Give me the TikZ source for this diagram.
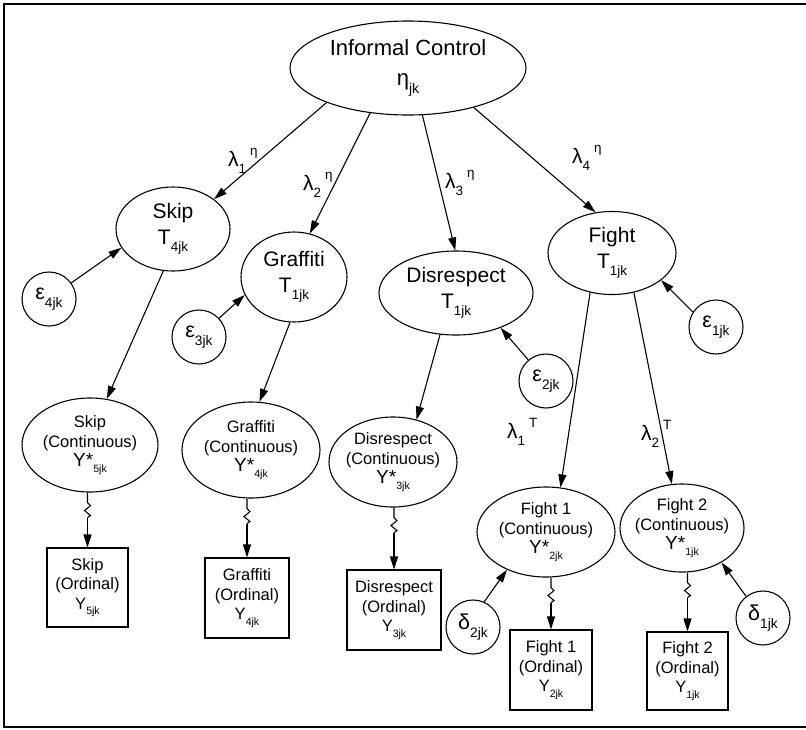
\documentclass[tikz,border=0pt]{standalone}
\usepackage{fontspec}
\setmainfont{Liberation Sans}
\usepackage{graphicx}
\usetikzlibrary{arrows.meta,shapes.geometric}
\newcommand\lo[1]{\raisebox{-0.34em}{\scalebox{0.64}{#1}}}
\newcommand\hi[1]{\raisebox{0.5em}{\scalebox{0.64}{#1}}}
\newcommand\bigY{{\fontsize{19}{19}\selectfont Y*}}
\tikzset{
  lat/.style={draw, ellipse, line width=1.1pt, inner sep=-14pt, align=center},
  bigf/.style={font=\fontsize{21}{26}\selectfont},
  smallf/.style={font=\fontsize{16.5}{19.5}\selectfont},
  err/.style={draw, circle, line width=1.1pt, inner sep=0pt, minimum size=54pt, font=\fontsize{21.5}{21.5}\selectfont},
  obs/.style={draw, rectangle, line width=1.1pt, inner sep=0pt, align=center, font=\fontsize{16.5}{19.5}\selectfont},
  arr/.style={line width=1.1pt, -{Triangle[length=13pt,width=8pt]}},
  zig/.style={line width=1.1pt},
  lab/.style={font=\fontsize{21}{21}\selectfont, inner sep=0pt, anchor=base west}
}
\begin{document}
\begin{tikzpicture}[x=1pt,y=-1pt]
\useasboundingbox (0,0) rectangle (806,729);
\draw[line width=2.8pt] (806,4) -- (4,4) -- (4,727) -- (806,727);

% latent nodes
\node[lat, font=\fontsize{22}{30}\selectfont, minimum width=236pt, minimum height=94pt] (ic) at (408,68) {Informal Control\\η\lo{jk}};
\node[lat, bigf, minimum width=114pt, minimum height=84pt] (st) at (173,229) {Skip\\T\lo{4jk}};
\node[lat, bigf, minimum width=106pt, minimum height=90pt] (gt) at (294,277) {Graffiti\\T\lo{1jk}};
\node[lat, bigf, minimum width=154pt, minimum height=84pt] (dt) at (456,293) {Disrespect\\T\lo{1jk}};
\node[lat, bigf, minimum width=128pt, minimum height=83pt] (ft) at (612,253) {Fight\\T\lo{1jk}};

% continuous
\node[lat, smallf, minimum width=136pt, minimum height=94pt] (sc) at (90,445) {Skip\\(Continuous)\\\bigY\lo{5jk}};
\node[lat, smallf, minimum width=138pt, minimum height=96pt] (gc) at (251,450) {Graffiti\\(Continuous)\\\bigY\lo{4jk}};
\node[lat, smallf, minimum width=128pt, minimum height=90pt] (dc) at (393,462) {Disrespect\\(Continuous)\\\bigY\lo{3jk}};
\node[lat, smallf, minimum width=138pt, minimum height=90pt] (f1c) at (546,532) {Fight 1\\(Continuous)\\\bigY\lo{2jk}};
\node[lat, smallf, minimum width=124pt, minimum height=88pt] (f2c) at (682,528) {Fight 2\\(Continuous)\\\bigY\lo{1jk}};

% ordinal boxes
\node[obs, minimum width=81pt, minimum height=79pt] (so) at (87.5,587.5) {Skip\\(Ordinal)\\Y\lo{5jk}};
\node[obs, minimum width=84pt, minimum height=80pt] (go) at (247,598) {Graffiti\\(Ordinal)\\Y\lo{4jk}};
\node[obs, minimum width=94pt, minimum height=80pt] (do) at (394,610) {Disrespect\\(Ordinal)\\Y\lo{3jk}};
\node[obs, minimum width=82pt, minimum height=80pt] (f1o) at (551,670) {Fight 1\\(Ordinal)\\Y\lo{2jk}};
\node[obs, minimum width=81pt, minimum height=78pt] (f2o) at (687.5,671) {Fight 2\\(Ordinal)\\Y\lo{1jk}};

% error terms
\node[err] (e4) at (49,299) {ε\lo{4jk}};
\node[err] (e3) at (199,337) {ε\lo{3jk}};
\node[err] (e2) at (546,381) {ε\lo{2jk}};
\node[err] (e1) at (716,327) {ε\lo{1jk}};
\node[err] (d2) at (473,627) {δ\lo{2jk}};
\node[err] (d1) at (763,618) {δ\lo{1jk}};

% loadings labels
\node[lab] (l1) at (228,166) {λ\lo{1}\hspace{4pt}\hi{η}};
\node[lab] (l2) at (303,190) {λ\lo{2}\hspace{4pt}\hi{η}};
\node[lab] (l3) at (445,188) {λ\lo{3}\hspace{4pt}\hi{η}};
\node[lab] (l4) at (572,163) {λ\lo{4}\hspace{4pt}\hi{η}};
\node[lab] (l5) at (507,438) {λ\lo{1}\hspace{4pt}\hi{T}};
\node[lab] (l6) at (641,440) {λ\lo{2}\hspace{4pt}\hi{T}};

% arrows
\draw[arr] (ic.203.6) -- (st.36);
\draw[arr] (ic.230) -- (gt.70);
\draw[arr] (ic.287) -- (dt.91);
\draw[arr] (ic.329) -- (ft.112);
\draw[arr] (e4.36) -- (st.200);
\draw[arr] (e3.43) -- (gt.200);
\draw[arr] (e2.130) -- (dt.322);
\draw[arr] (e1.147) -- (ft.331);
\draw[arr] (st.257) -- (sc.70);
\draw[arr] (gt.265) -- (gc.80);
\draw[arr] (dt.249) -- (dc.61);
\draw[arr] (ft.241) -- (f1c.72);
\draw[arr] (ft.299) -- (f2c.103);
\draw[arr] (d2.66) -- (f1c.224);
\draw[arr] (d1.128) -- (f2c.319);

% zigzag links
\foreach \c/\o in {sc/so, gc/go, dc/do, f1c/f1o, f2c/f2o}{
  \draw[zig] (\c.south -| \o.north) -- ++(0,10) -- ++(3,3) -- ++(-6,5) -- ++(6,5) -- ++(-3,2) coordinate (z\c);
  \draw[arr] (z\c) -- (\o.north);
}
\end{tikzpicture}
\end{document}
